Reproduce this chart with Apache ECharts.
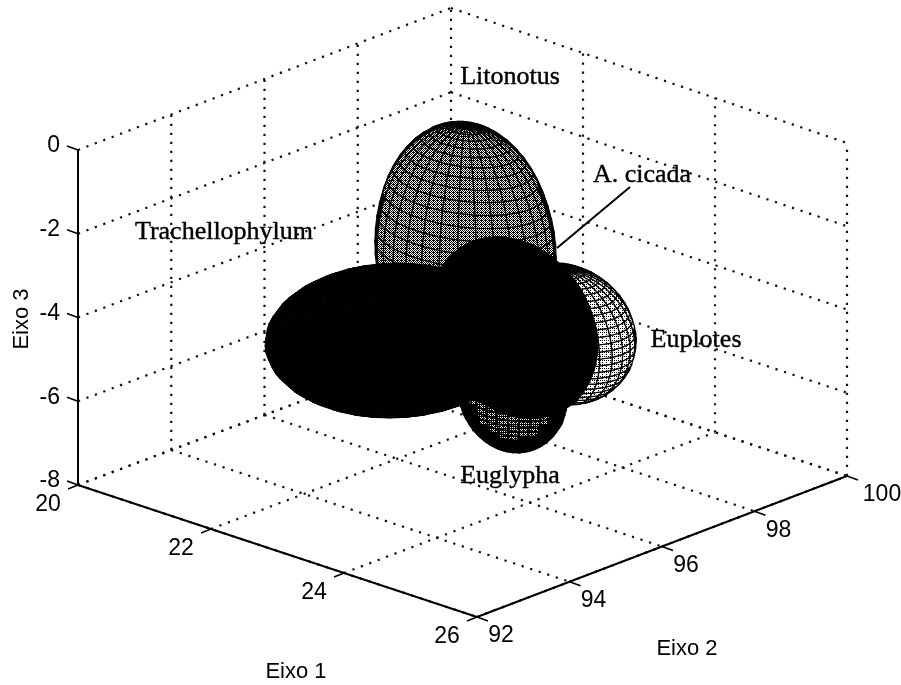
<!DOCTYPE html>
<html><head><meta charset="utf-8">
<style>html,body{margin:0;padding:0;background:#fff}#c{width:901px;height:685px}</style>
<script src="https://cdn.jsdelivr.net/npm/echarts@6/dist/echarts.min.js"></script>
</head><body><div id="c"></div>
<script>
// ---- data ----
const ticksEixo1 = [20, 22, 24, 26];
const ticksEixo2 = [92, 94, 96, 98, 100];
const ticksEixo3 = [0, -2, -4, -6, -8];
const species    = ['Litonotus', 'Euplotes', 'Euglypha', 'Trachellophylum', 'A. cicada'];
const centerE1   = [23.0, 24.0, 23.5, 22.0, 23.5];
const centerE2   = [96.05, 96.68, 96.35, 95.93, 96.38];
const centerE3   = [-2.53, -4.25, -5.73, -5.15, -4.24];
const radiusE1   = [1.12, 0.93, 0.68, 1.38, 1.16];
const radiusE2   = [1.12, 0.93, 0.68, 1.95, 0.72];
const radiusE3   = [3.00, 1.58, 1.41, 1.49, 2.06];
const axisNames  = ['Eixo 1', 'Eixo 2', 'Eixo 3'];

// ---- view of the box: screen position of the floor and height of the box ----
const floorView = { a: [78, 485], b: [477, 617], c: [847, 476], d: [451, 345] };
const boxHeight = { a: 335, b: 335, c: 333, d: 337 };
function project(x1, x2, z) {
  const u = (x1 - 20) / 6, v = (x2 - 92) / 8, w = (z + 8) / 8;
  const f = floorView, h = boxHeight;
  const mix = k => (1 - u) * (1 - v) * f.a[k] + u * (1 - v) * f.b[k] + u * v * f.c[k] + (1 - u) * v * f.d[k];
  const hh = (1 - u) * (1 - v) * h.a + u * (1 - v) * h.b + u * v * h.c + (1 - u) * v * h.d;
  return [mix(0), mix(1) - w * hh];
}
const toCamera = [1944, -2778, 2183];

// ---- styles ----
const bayer = [0, 8, 2, 10, 12, 4, 14, 6, 3, 11, 1, 9, 15, 7, 13, 5];
function stipple(level) {
  const cv = document.createElement('canvas'); cv.width = cv.height = 4;
  const g = cv.getContext('2d');
  g.fillStyle = '#fff'; g.fillRect(0, 0, 4, 4); g.fillStyle = '#000';
  bayer.forEach((b, i) => { if (b < level) g.fillRect(i % 4, i >> 2, 1, 1); });
  return { image: cv, repeat: 'repeat' };
}
const faceFill = [stipple(9), stipple(3), stipple(11), '#000', '#000'];
const faceLine = [1.2, 1.2, 1.6, 1, 1];
const rimShare = [0.2, 0.14, 0.62, 0, 0];
const SANS = '"Liberation Sans", Arial, sans-serif';
const SERIF = '"Liberation Serif", "Times New Roman", serif';

// ---- segments built from the tick lists ----
const dotted = [];
ticksEixo3.forEach(z => {
  dotted.push([[20, 92, z], [20, 100, z]]);
  dotted.push([[20, 100, z], [26, 100, z]]);
});
ticksEixo2.forEach(x2 => {
  if (x2 !== 92) dotted.push([[20, x2, -8], [20, x2, 0]]);
  dotted.push([[20, x2, -8], [26, x2, -8]]);
});
ticksEixo1.forEach(x1 => {
  if (x1 !== 20) dotted.push([[x1, 100, -8], [x1, 100, 0]]);
  dotted.push([[x1, 92, -8], [x1, 100, -8]]);
});
const solid = [
  [[20, 92, -8], [20, 92, 0]],
  [[20, 92, -8], [26, 92, -8]],
  [[26, 92, -8], [26, 100, -8]]
];

function lineEl(api, p, q, style) {
  const s = api.coord(p), e = api.coord(q);
  return { type: 'line', shape: { x1: s[0], y1: s[1], x2: e[0], y2: e[1] }, style };
}
const dotStyle = { stroke: '#111', lineWidth: 2.2, lineDash: [2.2, 6.8], lineCap: 'butt', fill: null };
const axisStyle = { stroke: '#000', lineWidth: 2, fill: null };

function renderSegment(list, style) {
  return (params, api) => {
    const [a, b] = list[params.dataIndex];
    return lineEl(api, project(...a), project(...b), style);
  };
}

const N = 30;
function renderEllipsoid(params, api) {
  const i = params.dataIndex;
  const c = [centerE1[i], centerE2[i], centerE3[i]], r = [radiusE1[i], radiusE2[i], radiusE3[i]];
  const surf = (t, p) => [
    c[0] + r[0] * Math.cos(p) * Math.cos(t),
    c[1] + r[1] * Math.cos(p) * Math.sin(t),
    c[2] + r[2] * Math.sin(p)
  ];
  const v = [toCamera[0] * r[0] ** -1, toCamera[1] * r[1] ** -1, toCamera[2] * r[2] ** -1];
  const vLen = Math.hypot(v[0], v[1], v[2]);
  const kids = [];
  for (let a = 0; a < N; a++) for (let b = 0; b < N; b++) {
    const t0 = a / N * 2 * Math.PI, t1 = (a + 1) / N * 2 * Math.PI;
    const p0 = -Math.PI / 2 + b / N * Math.PI, p1 = -Math.PI / 2 + (b + 1) / N * Math.PI;
    const tm = (t0 + t1) / 2, pm = (p0 + p1) / 2;
    const s = [Math.cos(pm) * Math.cos(tm), Math.cos(pm) * Math.sin(tm), Math.sin(pm)];
    const facing = (s[0] * v[0] + s[1] * v[1] + s[2] * v[2]) / vLen;
    if (facing <= 0) continue;
    const rim = facing < rimShare[i];
    const pts = [[t0, p0], [t1, p0], [t1, p1], [t0, p1]].map(q => api.coord(project(...surf(q[0], q[1]))));
    kids.push({
      type: 'polygon', shape: { points: pts },
      style: { fill: rim ? '#000' : faceFill[i], stroke: '#000', lineWidth: faceLine[i] }
    });
  }
  return { type: 'group', children: kids };
}

// ---- text rows ----
const tickTexts = [];
const addTick = (text, pos, dx, dy, align) => tickTexts.push({ text, pos, dx, dy, align });
ticksEixo3.forEach(z => addTick(String(z), project(20, 92, z), -18, -4, 'right'));
ticksEixo1.forEach(v => addTick(String(v), project(v, 92, -8), -30, 20, 'center'));
ticksEixo2.forEach(v => addTick(String(v), project(26, v, -8), v === 100 ? 35 : 24, 19, 'center'));
const tickMarks = [];
ticksEixo3.forEach(z => { const p = project(20, 92, z); tickMarks.push([p, [p[0] - 11, p[1] - 4]]); });
ticksEixo1.forEach(v => { const p = project(v, 92, -8); tickMarks.push([p, [p[0] - 10, p[1] + 4]]); });
ticksEixo2.forEach(v => { const p = project(26, v, -8); tickMarks.push([p, [p[0] + 11, p[1] + 4]]); });

const annotationAt = { 'Litonotus': [510, 77], 'Euplotes': [696, 340], 'Euglypha': [510, 476], 'Trachellophylum': [224, 232], 'A. cicada': [642, 175] };
const axisTitleAt = [[296, 672, 0], [687, 649, 0], [22, 319, Math.PI / 2]];
const leader = [[557, 248], [630, 187]];

function txt(api, text, p, font, align, heavy) {
  const s = api.coord(p);
  const style = { text, x: s[0], y: s[1], font, align: align || 'center', verticalAlign: 'middle', fill: '#000' };
  if (heavy) { style.stroke = '#000'; style.lineWidth = heavy; }
  return { type: 'text', style };
}

function custom(name, rows, renderItem) {
  return { type: 'custom', name, coordinateSystem: 'cartesian2d', silent: true, animation: false, clip: false,
    data: rows.map((_, i) => [i]), renderItem };
}

const chart = echarts.init(document.getElementById('c'), null, { renderer: 'canvas' });
chart.setOption({
  animation: false,
  backgroundColor: '#fff',
  grid: { left: 0, right: 0, top: 0, bottom: 0 },
  xAxis: { type: 'value', min: 0, max: 901, show: false },
  yAxis: { type: 'value', min: 0, max: 685, inverse: true, show: false },
  series: [
    custom('grade', dotted, renderSegment(dotted, dotStyle)),
    custom('eixos', solid, renderSegment(solid, axisStyle)),
    custom('marcas', tickMarks, (params, api) => {
      const m = tickMarks[params.dataIndex];
      return lineEl(api, m[0], m[1], { stroke: '#000', lineWidth: 1.5, fill: null });
    }),
    custom('elipsoides', species, renderEllipsoid),
    custom('ligacao', [leader], (params, api) => lineEl(api, leader[0], leader[1], { stroke: '#000', lineWidth: 2, fill: null })),
    custom('rotulos', species, (params, api) => {
      const n = species[params.dataIndex];
      return txt(api, n, annotationAt[n], '26px ' + SERIF, 'center', 0.4);
    }),
    custom('ticks', tickTexts, (params, api) => {
      const t = tickTexts[params.dataIndex];
      return txt(api, t.text, [t.pos[0] + t.dx, t.pos[1] + t.dy], '23px ' + SANS, t.align);
    }),
    custom('titulos', axisNames, (params, api) => {
      const a = axisTitleAt[params.dataIndex], s = api.coord(a);
      return { type: 'text', x: s[0], y: s[1], rotation: a[2],
        style: { text: axisNames[params.dataIndex], x: 0, y: 0, font: '22px ' + SANS, align: 'center', verticalAlign: 'middle', fill: '#000' } };
    })
  ]
});
</script></body></html>
